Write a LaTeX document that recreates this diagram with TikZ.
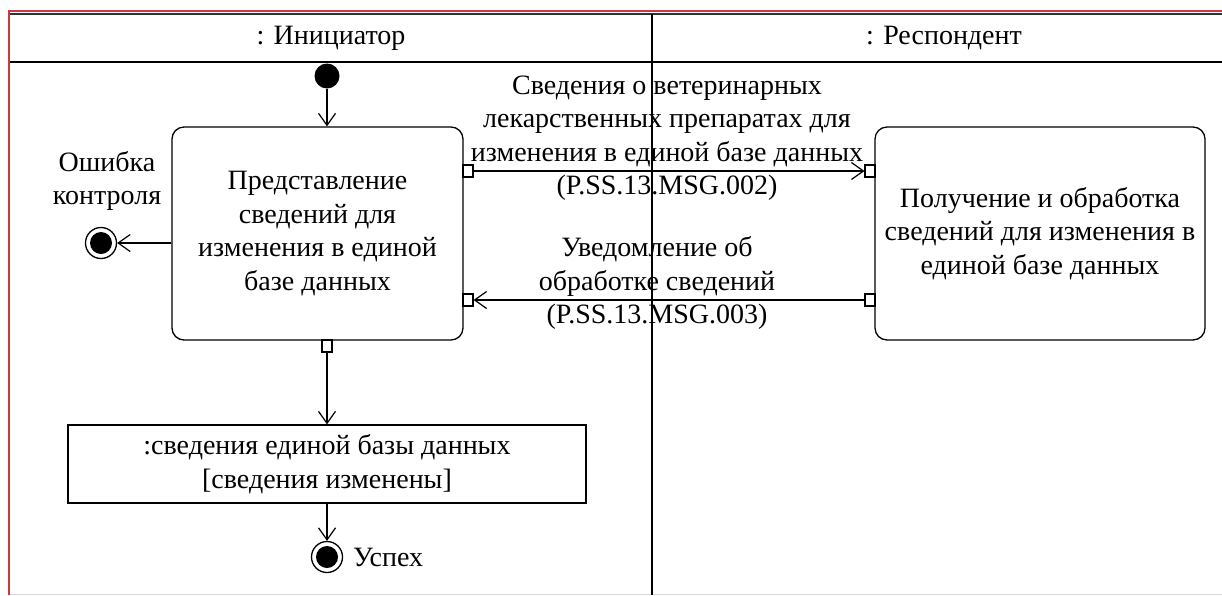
\documentclass[tikz,border=0pt]{standalone}
\usepackage{fontspec}
\setmainfont{Liberation Serif}
\usetikzlibrary{arrows.meta}
\definecolor{framered}{RGB}{205,55,65}
\begin{document}
\begin{tikzpicture}[x=1pt,y=-1pt,
  txt/.style={font=\fontsize{28pt}{33.5pt}\selectfont, align=center, inner sep=0pt},
  act/.style={draw, rounded corners=12pt, line width=1.3pt, txt},
  objbox/.style={draw, line width=1.3pt, txt},
  port/.style={draw, fill=white, minimum width=10pt, minimum height=12pt, inner sep=0pt, line width=1.1pt},
  flow/.style={line width=1.2pt, -{Straight Barb[length=12pt,width=17pt]}},
  initnode/.style={circle, fill, minimum size=25pt, inner sep=0pt},
  finalnode/.style={circle, draw, line width=1.3pt, minimum size=31pt, inner sep=0pt}]
\useasboundingbox (0,0) rectangle (1222,595);
\fill[white] (0,0) rectangle (1222,595);
% frame
\draw[framered, line width=1.5pt] (9,595) -- (9,11) -- (1222,11);
\draw[black!80, line width=2pt] (10,14) -- (1222,14);
\draw[line width=1.3pt] (10,62) -- (1222,62);
\draw[gray!30, line width=1pt] (10,594) -- (1222,594);
% headers
\node[txt] (h1) at (331,38) {: Инициатор};
\node[txt] (h2) at (944,38) {: Респондент};
% nodes
\node[initnode] (s) at (327,76) {};
\node[act, minimum width=291pt, minimum height=213pt] (b1) at (317.5,233.5)
  {Представление\\сведений для\\изменения в единой\\базе данных};
\node[act, minimum width=330pt, minimum height=213pt] (b2) at (1040,233.5)
  {Получение и обработка\\сведений для изменения в\\единой базе данных};
\node[objbox, minimum width=518pt, minimum height=78pt] (obj) at (327,464)
  {:сведения единой базы данных\\{[сведения изменены]}};
\node[finalnode] (f1) at (101,243) {};
\fill (f1.center) circle (11);
\node[finalnode] (f2) at (327,557) {};
\fill (f2.center) circle (11);
% ports
\node[port] (p1) at (468,171) {};
\node[port] (p2) at (468,300) {};
\node[port] (p3) at (327,346) {};
\node[port] (q1) at (870,171) {};
\node[port] (q2) at (870,300) {};
% connectors
\draw[flow] (s) -- (s |- b1.north);
\draw[flow] (p1) -- (q1);
\draw[flow] (q2) -- (p2);
\draw[flow] (b1.west |- f1) -- (f1);
\draw[flow] (p3) -- (p3 |- obj.north);
\draw[flow] (obj.south -| f2) -- (f2);
% labels
\node[txt] (l1) at (667,138) {Сведения о ветеринарных\\лекарственных препаратах для\\изменения в единой базе данных\\(P.SS.13.MSG.002)};
\node[txt] (l2) at (657,283) {Уведомление об\\обработке сведений\\(P.SS.13.MSG.003)};
\node[txt] (e) at (107,181) {Ошибка\\контроля};
\node[txt, anchor=west] (u) at (353,557) {Успех};
% lane divider
\draw[line width=1.5pt] (652,14) -- (652,595);
\end{tikzpicture}
\end{document}
